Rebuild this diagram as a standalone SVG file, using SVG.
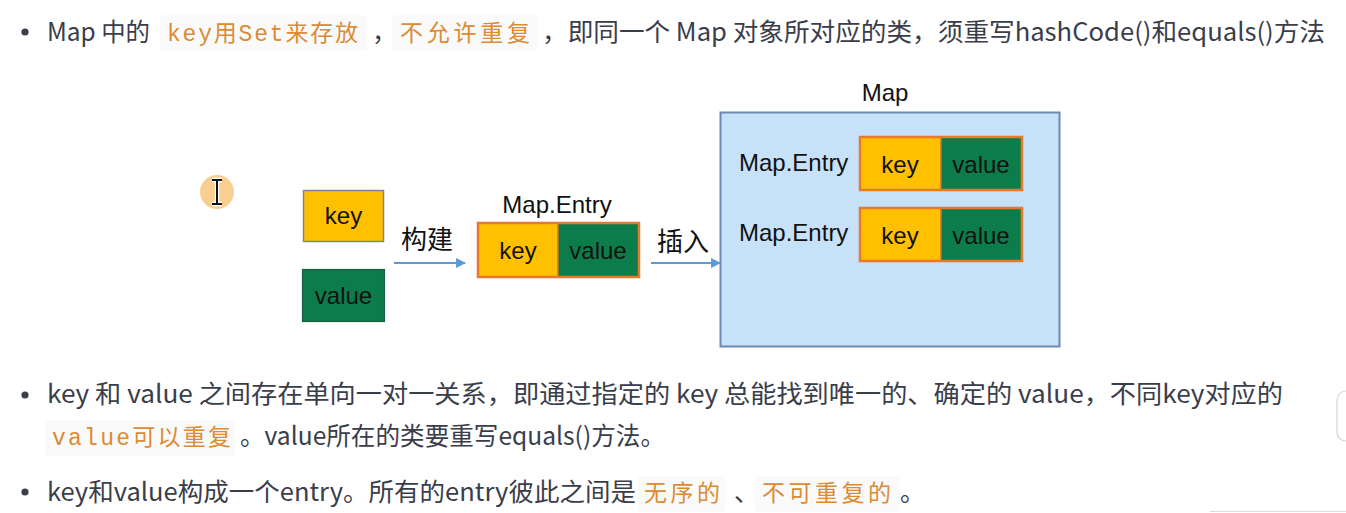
<svg xmlns="http://www.w3.org/2000/svg" width="1346" height="513" viewBox="0 0 1346 513">
<defs>
<style>
.t{font-family:"Noto Sans CJK SC","Noto Sans",sans-serif;font-size:25px;fill:#3a3d4a}
.c{font-family:"Liberation Mono","Noto Sans CJK SC",monospace;font-size:23px;fill:#dc8a33}
.cbg{fill:#fafafa}
.lbl{font-family:"Liberation Sans",Arial,sans-serif;font-size:24px;fill:#111}
.bx{font-family:"Liberation Sans",Arial,sans-serif;font-size:24px;fill:#111;text-anchor:middle}
.cn{font-family:"Noto Sans CJK SC",sans-serif;font-size:26px;fill:#111}
.key{fill:#ffc000}
.val{fill:#0c7c4b}
.ent{fill:none;stroke:#e8782c;stroke-width:2.5}
.arr{stroke:#5b9bd5;stroke-width:2.2;fill:none}
</style>
<marker id="ah" viewBox="0 0 10 10" refX="9" refY="5" markerWidth="4.5" markerHeight="4.5" orient="auto">
<path d="M0,0 L10,5 L0,10 z" fill="#5b9bd5"/>
</marker>
</defs>
<rect width="1346" height="513" fill="#ffffff"/>

<!-- bullet text lines -->
<g id="text-lines">
<circle cx="25" cy="32" r="3.6" fill="#3a3d4a"/>
<text class="t" x="47" y="41" textLength="103" lengthAdjust="spacingAndGlyphs">Map 中的</text>
<rect class="cbg" x="160" y="15" width="207" height="36" rx="3"/>
<text class="c" x="167" y="41" textLength="191" lengthAdjust="spacing">key用Set来存放</text>
<text class="t" x="372" y="41">，</text>
<rect class="cbg" x="392" y="15" width="146" height="36" rx="3"/>
<text class="c" x="400" y="41" textLength="130" lengthAdjust="spacing">不允许重复</text>
<text class="t" x="542" y="41" textLength="783" lengthAdjust="spacingAndGlyphs">，即同一个 Map 对象所对应的类，须重写hashCode()和equals()方法</text>

<circle cx="25" cy="395" r="3.6" fill="#3a3d4a"/>
<text class="t" x="47" y="403" textLength="1236" lengthAdjust="spacingAndGlyphs">key 和 value 之间存在单向一对一关系，即通过指定的 key 总能找到唯一的、确定的 value，不同key对应的</text>
<rect class="cbg" x="45" y="420" width="190" height="36" rx="3"/>
<text class="c" x="52" y="445" textLength="179" lengthAdjust="spacing">value可以重复</text>
<text class="t" x="240" y="445" textLength="425" lengthAdjust="spacingAndGlyphs">。value所在的类要重写equals()方法。</text>

<circle cx="25" cy="492" r="3.6" fill="#3a3d4a"/>
<text class="t" x="47" y="501" textLength="589" lengthAdjust="spacingAndGlyphs">key和value构成一个entry。所有的entry彼此之间是</text>
<rect class="cbg" x="638" y="476" width="88" height="36" rx="3"/>
<text class="c" x="644" y="501" textLength="76" lengthAdjust="spacing">无序的</text>
<text class="t" x="734" y="501">、</text>
<rect class="cbg" x="754" y="476" width="146" height="36" rx="3"/>
<text class="c" x="762" y="501" textLength="129" lengthAdjust="spacing">不可重复的</text>
<text class="t" x="900" y="501">。</text>
</g>

<!-- cursor artifact -->
<g id="cursor">
<circle cx="217" cy="192" r="17" fill="#f7c77e" opacity="0.85"/>
<path d="M212,180 H222 M212,204 H222 M217,180 V204" stroke="#ffffff" stroke-width="4.5" fill="none"/>
<path d="M212,180 H222 M212,204 H222 M217,180 V204" stroke="#111" stroke-width="2" fill="none"/>
</g>

<!-- standalone key / value -->
<g id="node-key">
<rect class="key" x="303.5" y="190.5" width="80" height="51" stroke="#7c8794" stroke-width="1.5"/>
<text class="bx" x="343.5" y="224">key</text>
</g>
<g id="node-value">
<rect class="val" x="302.5" y="269.5" width="82" height="52" stroke="#1f5e40" stroke-width="1.2"/>
<text class="bx" x="343.5" y="304">value</text>
</g>

<!-- Map.Entry -->
<g id="node-entry">
<text class="lbl" x="557" y="213" text-anchor="middle">Map.Entry</text>
<rect class="key" x="478" y="223" width="80" height="54"/>
<rect class="val" x="558" y="223" width="81" height="54"/>
<line x1="558" y1="223" x2="558" y2="277" stroke="#c9752a" stroke-width="1.5"/>
<rect class="ent" x="478" y="223" width="161" height="54"/>
<text class="bx" x="518" y="259">key</text>
<text class="bx" x="598" y="259">value</text>
</g>

<!-- Map -->
<g id="node-map">
<text class="lbl" x="885" y="101" text-anchor="middle">Map</text>
<rect x="720.5" y="112.5" width="339" height="234" fill="#c7e1f9" stroke="#6a89b3" stroke-width="2"/>
<text class="lbl" x="739" y="171">Map.Entry</text>
<rect class="key" x="860" y="137" width="81" height="53"/>
<rect class="val" x="941" y="137" width="81" height="53"/>
<line x1="941" y1="137" x2="941" y2="190" stroke="#c9752a" stroke-width="1.5"/>
<rect class="ent" x="860" y="137" width="162" height="53"/>
<text class="bx" x="900" y="173">key</text>
<text class="bx" x="981" y="173">value</text>
<text class="lbl" x="739" y="241">Map.Entry</text>
<rect class="key" x="860" y="208" width="81" height="53"/>
<rect class="val" x="941" y="208" width="81" height="53"/>
<line x1="941" y1="208" x2="941" y2="261" stroke="#c9752a" stroke-width="1.5"/>
<rect class="ent" x="860" y="208" width="162" height="53"/>
<text class="bx" x="900" y="244">key</text>
<text class="bx" x="981" y="244">value</text>
</g>

<!-- connectors -->
<g id="connectors">
<line class="arr" x1="394" y1="263" x2="465" y2="263" marker-end="url(#ah)"/>
<text class="cn" x="401" y="249">构建</text>
<line class="arr" x1="651" y1="263" x2="720" y2="263" marker-end="url(#ah)"/>
<text class="cn" x="657" y="251">插入</text>
</g>

<!-- ui fragments at the edge -->
<g id="ui-edge">
<rect x="1337" y="391" width="30" height="50" rx="9" fill="#ffffff" stroke="#d6d6d6" stroke-width="1.2"/>
<line x1="1210" y1="511.5" x2="1346" y2="511.5" stroke="#dddddd" stroke-width="1"/>
</g>
</svg>
